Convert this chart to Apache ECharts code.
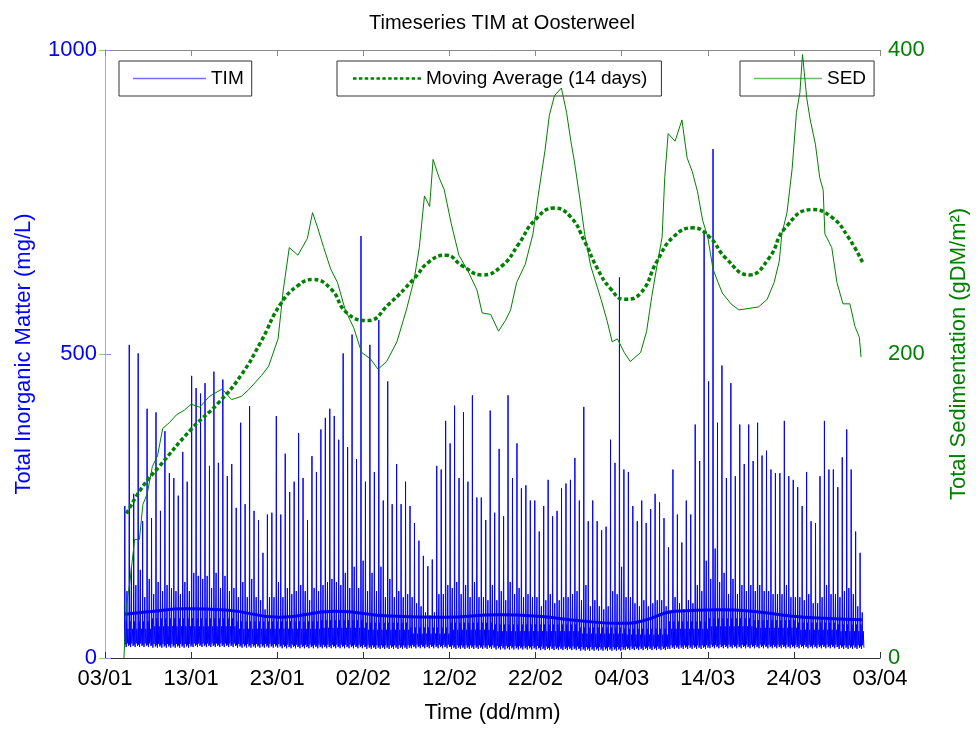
<!DOCTYPE html>
<html><head><meta charset="utf-8">
<script src="https://cdn.jsdelivr.net/npm/echarts@6/dist/echarts.min.js"></script>
<style>html,body{margin:0;padding:0;background:#fff}#c{width:978px;height:729px}</style>
</head><body><div id="c"></div>
<script>
// ---- data (days after 03/01) ----
const baseDate = Date.UTC(2011, 0, 3);
// tidal sampling of TIM peaks
const tideStart = 2.30;
const tidePeriod = 0.5175;
const timPeaks = [
 250,515,270,501,225,410,230,404,242,373,304,296,267,339,290,464,444,435,452,316,471,321,458,299,319,247,387,253,414,242,227,173,236,239,398,236,336,273,290,370,296,227,
 332,306,376,395,410,398,359,501,347,532,327,694,290,515,306,556,259,455,253,319,253,290,250,222,193,168,151,162,316,310,390,353,415,296,404,290,432,264,264,227,407,239,
 344,233,432,296,353,279,284,259,259,208,250,293,233,242,279,287,293,329,259,413,225,259,225,210,216,359,321,626,310,306,250,225,259,222,245,270,256,230,182,310,236,190,
 259,236,384,324,700,455,837,387,481,296,452,299,384,319,384,324,387,333,341,310,304,304,390,299,293,281,250,306,225,222,299,390,310,310,281,330,376,310,208,173
];
// ebb-phase peak of each tide (mg/L), in the same order as the peaks
const timEbb = [
 110,150,120,145,100,130,105,125,110,120,115,110,105,125,110,140,135,130,135,115,140,115,135,110,115,100,125,100,130,100,95,80,100,100,125,100,115,105,110,120,110,95,
 115,110,120,125,130,125,120,140,115,150,115,160,110,140,110,150,100,130,100,110,100,105,100,90,85,75,70,75,105,105,120,115,125,105,120,100,125,100,100,95,120,95,
 110,95,125,105,115,100,105,100,100,85,95,105,90,95,100,100,105,110,95,120,85,95,85,80,85,110,105,150,100,100,90,85,95,85,90,95,95,85,75,100,90,80,
 95,90,120,110,160,130,180,125,140,105,130,105,120,110,120,110,120,110,110,105,105,105,120,100,100,100,95,105,90,90,100,120,105,105,100,110,115,105,85,75
];
// mid level and low level of TIM, per 5-day block
const timMid = [60, 65, 65, 60, 60, 62, 58, 50, 58, 55, 55, 50, 48, 60, 65, 62, 58, 55];
const timLow = [18, 17, 18, 17, 16, 16, 15, 16, 15, 14, 13, 12, 13, 15, 16, 16, 16, 15];
// TIM moving average
const timMaDays = [2.3, 5, 9.4, 14, 20.3, 26.7, 33, 39.4, 45.8, 50.3, 55.4, 59.8, 62.4, 66.2, 71.3, 76.4, 79.6, 84, 87.9];
const timMaVals = [72, 76, 81, 79, 67, 77, 69, 67, 71, 68.5, 61, 57, 61, 77, 79.5, 75, 69, 65, 63];
// SED (gDM/m2)
const sedDays = [2.2,2.5,2.87,3.44,4.0,4.4,4.9,5.5,6.1,6.7,7.5,8.3,9.2,10,11,12.1,13.6,14.7,15.8,16.6,17.4,18.2,19,20.1,20.7,21.4,22.4,23.5,24.1,24.7,25.4,26.2,27,27.9,28.9,29.8,30.8,31.7,32.7,33.9,35,35.9,36.5,37.1,37.7,38.1,38.8,39.4,40.2,41.1,42.2,43.2,43.8,44.8,45.7,46.5,47.1,47.8,48.8,49.7,50.3,51.1,51.6,52.2,53,53.6,54.1,54.5,55.1,55.7,56.4,57.6,58.3,58.9,59.5,60.3,61,62.2,62.9,63.5,64.1,64.7,65,65.4,66.2,67,67.6,68.2,68.8,69.4,70,70.6,71.2,71.7,72.7,73.6,74.8,75.9,76.9,77.7,78.3,78.6,79.2,79.8,80.3,80.7,81.0,81.5,81.9,82.5,83,83.4,83.6,84.4,85,85.7,86.5,87.1,87.6,87.8];
const sedVals = [0,35,49,78,78,101,108,126,133,151,155,160,163,167,165,172,177,170,172,176,181,186,192,210,242,270,265,276,293,283,270,256,247,229,217,201,197,190,195,208,229,249,270,304,297,328,316,308,286,265,254,242,227,226,215,222,229,247,259,279,304,334,357,370,375,359,340,327,304,279,258,236,222,208,210,201,195,201,215,238,258,277,316,345,340,354,329,320,307,288,277,256,247,240,233,229,230,231,236,247,261,279,293,322,359,372,397,368,354,338,316,308,279,270,247,233,233,218,211,198];
// 14-day moving average of SED
const maDays = [2.5,4.4,6.3,10.1,13.2,15.8,18.1,20.4,22.4,24.1,26.2,28.1,30.5,33,35.8,37.7,39.6,41.5,43.8,46.1,48,49.9,52.2,54.1,55.7,57.2,58.7,60.3,62.2,64.1,66,68.3,70.2,72.1,74.8,77.1,79,82.1,84.4,86.3,88];
const maVals = [95,113,126,151,168,186,208,233,245,249,243,227,222,233,249,261,265,258,252,258,272,288,296,290,274,256,243,236,240,261,277,283,277,263,252,263,283,295,290,277,260];

// ---- build series data ----
function blk(arr, t) { return arr[Math.min(arr.length - 1, Math.max(0, Math.floor(t / 5)))]; }
const timData = [];
timPeaks.forEach((p, i) => {
  const t = tideStart + i * tidePeriod;
  const lo = blk(timLow, t), md = blk(timMid, t), eb = timEbb[i];
  timData.push([t - 0.03, lo + 8]);
  timData.push([t, p]);
  timData.push([t + 0.03, lo + 4]);
  timData.push([t + 0.1, md]);
  timData.push([t + 0.16, lo]);
  timData.push([t + 0.25, eb]);
  timData.push([t + 0.29, lo + 6]);
  timData.push([t + 0.37, md * 0.8]);
  timData.push([t + 0.44, lo + 2]);
});
const timMa = timMaDays.map((d, i) => [d, timMaVals[i]]);
const sed = sedDays.map((d, i) => [d, sedVals[i]]);
const ma = maDays.map((d, i) => [d, maVals[i]]);

function fmtDate(v) {
  const d = new Date(baseDate + v * 86400000);
  return String(d.getUTCDate()).padStart(2, '0') + '/' + String(d.getUTCMonth() + 1).padStart(2, '0');
}
// legend icons: solid thin line, dashed thick line
const solidIcon = 'path://M0,0H100V2H0Z';
let dashIcon = 'path://';
for (let k = 0; k < 12; k++) dashIcon += 'M' + (k * 10) + ',0h6v4h-6z';

const F = 'Liberation Sans, Arial, Helvetica, sans-serif';
const legendBase = {selectedMode: false, backgroundColor: '#fff', top: 61, borderColor: '#333', borderWidth: 1,
  borderRadius: 0, textStyle: {fontFamily: F, fontSize: 19, color: '#000'}};
const chart = echarts.init(document.getElementById('c'), null, {renderer: 'canvas'});
chart.setOption({
  animation: false,
  backgroundColor: '#fff',
  title: {text: 'Timeseries TIM at Oosterweel', left: 497, top: 8, textAlign: 'center',
    textStyle: {fontFamily: F, fontSize: 20, fontWeight: 'normal', color: '#000'}},
  grid: {left: 105, right: 89, top: 50, bottom: 63},
  legend: [
    Object.assign({}, legendBase, {data: [{name: 'TIM', icon: solidIcon, itemStyle: {color: '#7070ff'}}], left: 119,
      padding: [8, 8, 8, 14], itemWidth: 73, itemHeight: 2}),
    Object.assign({}, legendBase, {data: [{name: 'Moving Average (14 days)', icon: dashIcon, itemStyle: {color: '#008000'}}], left: 337,
      padding: [8, 14, 8, 16], itemWidth: 68, itemHeight: 4}),
    Object.assign({}, legendBase, {data: [{name: 'SED', icon: solidIcon, itemStyle: {color: '#70b870'}}], left: 740,
      padding: [8, 8, 8, 14], itemWidth: 68, itemHeight: 2})
  ],
  xAxis: [
    {type: 'value', min: 0, max: 90, interval: 10, position: 'bottom',
      name: 'Time (dd/mm)', nameLocation: 'middle', nameGap: 44,
      nameTextStyle: {fontFamily: F, fontSize: 22, color: '#000'},
      axisLine: {onZero: false, lineStyle: {color: '#333', width: 1}},
      axisTick: {inside: true, length: 6, lineStyle: {color: '#333'}},
      axisLabel: {fontFamily: F, fontSize: 22, color: '#000', margin: 10, formatter: fmtDate},
      splitLine: {show: false}},
    {type: 'value', min: 0, max: 90, interval: 10, position: 'top',
      axisLine: {onZero: false, lineStyle: {color: '#888', width: 1}},
      axisTick: {inside: true, length: 6, lineStyle: {color: '#888'}},
      axisLabel: {show: false}, splitLine: {show: false}}
  ],
  yAxis: [
    {type: 'value', min: 0, max: 1000, interval: 500, position: 'left',
      name: 'Total Inorganic Matter (mg/L)', nameLocation: 'middle', nameGap: 70, nameRotate: 90,
      nameTextStyle: {fontFamily: F, fontSize: 22, color: '#0000ff'},
      axisLine: {show: true, lineStyle: {color: '#8c8cff', width: 1}},
      axisTick: {show: true, inside: true, length: 6, lineStyle: {color: '#8c8cff'}},
      axisLabel: {fontFamily: F, fontSize: 22, color: '#0000ff', margin: 8, formatter: v => String(v)},
      splitLine: {show: false}},
    {type: 'value', min: 0, max: 400, interval: 200, position: 'right',
      name: 'Total Sedimentation (gDM/m²)', nameLocation: 'middle', nameGap: 68, nameRotate: 90,
      nameTextStyle: {fontFamily: F, fontSize: 22, color: '#008000'},
      axisLine: {show: true, lineStyle: {color: '#8cc88c', width: 1}},
      axisTick: {show: true, inside: true, length: 6, lineStyle: {color: '#8cc88c'}},
      axisLabel: {fontFamily: F, fontSize: 22, color: '#008000', margin: 8, formatter: v => String(v)},
      splitLine: {show: false}}
  ],
  series: [
    {name: 'TIM', type: 'line', xAxisIndex: 0, yAxisIndex: 0, data: timData, symbol: 'none',
      lineStyle: {color: '#0000ff', width: 1}, itemStyle: {color: '#0000ff'}, z: 2},
    {name: 'TIM avg', type: 'line', xAxisIndex: 0, yAxisIndex: 0, data: timMa, symbol: 'none', smooth: true,
      lineStyle: {color: '#0000ff', width: 3}, itemStyle: {color: '#0000ff'}, z: 3},
    {name: 'SED', type: 'line', xAxisIndex: 0, yAxisIndex: 1, data: sed, symbol: 'none',
      lineStyle: {color: '#008000', width: 1}, itemStyle: {color: '#008000'}, z: 4},
    {name: 'Moving Average (14 days)', type: 'line', xAxisIndex: 0, yAxisIndex: 1, data: ma, symbol: 'none', smooth: true,
      lineStyle: {color: '#008000', width: 3.5, type: [4, 2.5]}, itemStyle: {color: '#008000'}, z: 5}
  ]
});
</script></body></html>
